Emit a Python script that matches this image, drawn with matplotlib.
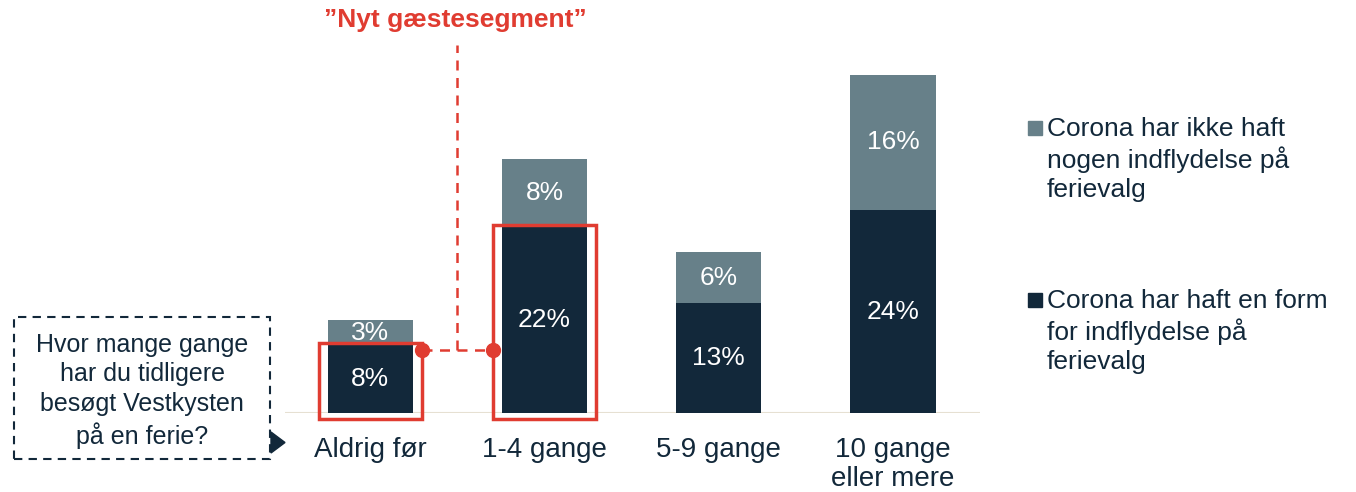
import matplotlib
matplotlib.use("Agg")
import matplotlib.pyplot as plt
from matplotlib.patches import Rectangle, Polygon
import numpy as np

plt.rcParams['font.family'] = ['Liberation Sans', 'DejaVu Sans']

categories = ["Aldrig før", "1-4 gange", "5-9 gange", "10 gange\neller mere"]
influenced = [8, 22, 13, 24]       # Corona har haft en form for indflydelse
not_influenced = [3, 8, 6, 16]     # Corona har ikke haft nogen indflydelse
legend_labels = ["Corona har ikke haft\nnogen indflydelse på\nferievalg",
                 "Corona har haft en form\nfor indflydelse på\nferievalg"]
highlight = [0, 1]

dark = "#12283a"
light = "#678089"
red = "#e03c31"
W, H = 1356, 492

fig = plt.figure(figsize=(W/100, H/100), dpi=100)
ax = fig.add_axes([285/W, (H-413)/H, (980-285)/W, 340/H])
x = np.arange(len(categories))
bw = 0.49
ax.bar(x, influenced, bw, color=dark, zorder=2)
ax.bar(x, not_influenced, bw, bottom=influenced, color=light, zorder=2)
ax.set_xlim(-0.49, 3.5)
ax.set_ylim(0, 40.2)
for s in ax.spines.values():
    s.set_visible(False)
ax.axhline(0, color="#e6e0d2", lw=1.5, zorder=1)
ax.set_yticks([])
ax.set_xticks(x)
ax.set_xticklabels(categories, fontsize=20, color=dark, linespacing=1.15)
ax.tick_params(axis='x', length=0, pad=17)

for i in range(len(x)):
    ax.text(x[i], influenced[i]/2, f"{influenced[i]}%", ha='center', va='center',
            color='white', fontsize=19, zorder=3)
    ax.text(x[i], influenced[i] + not_influenced[i]/2, f"{not_influenced[i]}%",
            ha='center', va='center', color='white', fontsize=19, zorder=3)

# red highlight boxes
pxx = 1/174.3
pxy = 1/8.45
for i in highlight:
    x0 = x[i] - bw/2 - 9*pxx
    x1 = x[i] + bw/2 + 9*pxx
    y0 = -6*pxy
    y1 = influenced[i] + 2*pxy
    ax.add_patch(Rectangle((x0, y0), x1-x0, y1-y0, fill=False, ec=red, lw=2.5,
                           clip_on=False, zorder=4))

# connector
xa = x[0] + bw/2 + 9*pxx
xb = x[1] - bw/2 - 9*pxx
ym = (413-350)*pxy
xm = (xa + xb)/2
ax.plot([xa, xb], [ym, ym], ls=(0, (4, 3)), color=red, lw=1.8, clip_on=False, zorder=4)
ax.plot([xm, xm], [ym, (413-45)*pxy], ls=(0, (4, 3)), color=red, lw=1.8, clip_on=False, zorder=4)
ax.plot([xa, xb], [ym, ym], 'o', color=red, ms=10, clip_on=False, zorder=5)
fig.text(455/W, 1-20/H, "\u201dNyt gæstesegment\u201d", ha='center', va='center',
         color=red, fontsize=19, fontweight='bold')

# question box
fig.patches.append(Rectangle((14/W, 1-459/H), (270-14)/W, (459-317)/H, fill=False,
                             ec=dark, lw=1.5, ls=(0, (4, 3)), transform=fig.transFigure))
fig.text(142/W, 1-391/H, "Hvor mange gange\nhar du tidligere\nbesøgt Vestkysten\npå en ferie?",
         ha='center', va='center', fontsize=18, color=dark, linespacing=1.3)
fig.patches.append(Polygon([[271/W, 1-432/H], [271/W, 1-453/H], [285/W, 1-442.5/H]],
                           closed=True, color=dark, transform=fig.transFigure))

# legend
for col, lab, ytop in [(light, legend_labels[0], 128), (dark, legend_labels[1], 300)]:
    fig.patches.append(Rectangle((1028/W, 1-(ytop+7)/H), 14/W, 14/H, color=col,
                                 transform=fig.transFigure))
    fig.text(1047/W, 1-(ytop-11)/H, lab, ha='left', va='top', fontsize=19,
             color=dark, linespacing=1.25)

fig.savefig("out.png", dpi=100)
